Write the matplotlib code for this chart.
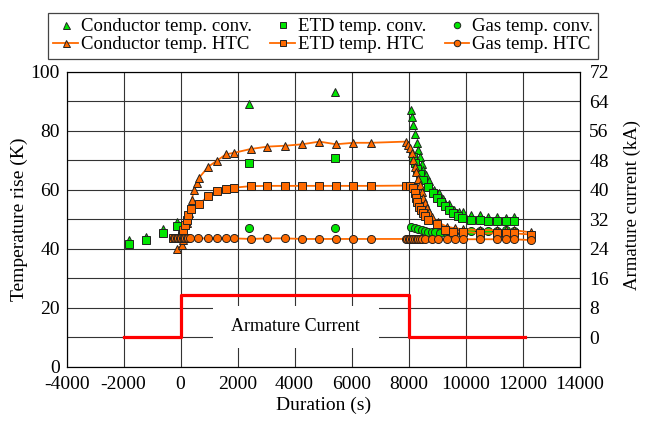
import matplotlib
matplotlib.use("Agg")
import matplotlib.pyplot as plt
from matplotlib.patches import Rectangle
from matplotlib.ticker import MultipleLocator

plt.rcParams['font.family'] = ['Liberation Serif', 'DejaVu Serif']
plt.rcParams['font.size'] = 14
plt.rcParams['axes.unicode_minus'] = False

# conventional (green) measurements
cond_conv_x = [-1800, -1200, -630, -140, 2400, 5420, 8100, 8130, 8170, 8220, 8280, 8340, 8400, 8460,
               8520, 8600, 8730, 8900, 9050, 9200, 9400, 9600, 9780, 9900, 10200, 10500, 10800,
               11100, 11400, 11700]
cond_conv_y = [42.9, 44.0, 46.6, 49.2, 89.0, 93.2, 87.0, 84.5, 82.0, 79.0, 75.8, 73.4, 71.2, 68.6,
               66.7, 65.0, 63.0, 60.0, 58.8, 56.8, 55.0, 53.1, 52.5, 52.3, 51.4, 51.4, 50.8,
               50.6, 50.3, 50.8]
etd_conv_x = [-1800, -1200, -630, -140, 2400, 5420, 8140, 8220, 8300, 8400, 8510, 8690, 8840, 8980,
              9120, 9270, 9430, 9570, 9740, 9890, 10200, 10500, 10800, 11100, 11400, 11700]
etd_conv_y = [41.5, 43.0, 45.4, 47.8, 69.2, 70.6, 71.2, 68.9, 67.0, 65.2, 63.3, 61.0, 58.8, 57.1,
              55.7, 54.5, 53.1, 52.0, 51.2, 50.3, 49.7, 49.7, 49.5, 49.3, 49.3, 49.5]
gas_conv_x = [2400, 5420, 8100, 8220, 8340, 8460, 8575, 8690, 8810, 8925, 9100, 9335, 9570, 9860,
              10200, 10500, 10800, 11100, 11400, 11700]
gas_conv_y = [47.1, 47.1, 47.5, 46.9, 46.6, 46.3, 46.1, 45.8, 45.8, 45.6, 45.4, 45.4, 45.4, 45.4,
              46.0, 46.0, 46.0, 46.0, 46.3, 46.0]

# HTC model (orange)
cond_htc_x = [-140, 35, 100, 150, 213, 306, 389, 470, 565, 635, 973, 1267, 1593, 1874, 2460, 3043,
              3664, 4271, 4868, 5453, 6061, 6670, 7910, 7990, 8050, 8110, 8160, 8220, 8260, 8340,
              8400, 8460, 8520, 8575, 8635, 8725, 8810, 9040, 9335, 9625, 9920, 10500, 11100,
              11400, 11700, 12300]
cond_htc_y = [39.8, 41.2, 43.0, 45.0, 48.6, 52.0, 56.5, 59.9, 62.2, 63.9, 67.8, 69.8, 72.0, 72.5,
              73.8, 74.6, 74.9, 75.4, 76.3, 75.4, 75.9, 75.9, 76.3, 75.2, 74.0, 72.3, 70.0, 67.8,
              65.9, 63.6, 61.6, 59.3, 57.1, 55.4, 53.7, 52.3, 50.8, 48.9, 47.5, 46.9, 46.6, 46.3,
              46.3, 46.3, 46.3, 45.5]
etd_htc_x = [-260, -150, -50, 35, 95, 150, 210, 270, 355, 655, 973, 1267, 1593, 1874, 2460, 3043,
             3664, 4271, 4868, 5453, 6061, 6670, 7910, 8050, 8160, 8220, 8260, 8300, 8370, 8420,
             8490, 8575, 8690, 8985, 9270, 9570, 9920, 10500, 11100, 11400, 11700, 12300]
etd_htc_y = [43.6, 43.6, 43.6, 44.5, 46.3, 48.0, 49.7, 51.4, 53.3, 55.2, 57.9, 59.6, 60.2, 60.7,
             61.2, 61.3, 61.3, 61.3, 61.3, 61.3, 61.3, 61.3, 61.4, 61.4, 60.5, 58.8, 57.1, 55.7,
             54.2, 53.1, 52.0, 51.2, 49.7, 48.3, 46.3, 45.8, 45.8, 45.2, 45.2, 45.2, 45.2, 44.8]
gas_htc_x = [-235, -180, -130, -80, -30, 20, 70, 120, 170, 220, 270, 330, 620, 973, 1267, 1593,
             1874, 2460, 3043, 3664, 4271, 4868, 5453, 6061, 6670, 7910, 7960, 8010, 8060, 8110,
             8160, 8220, 8280, 8340, 8400, 8460, 8575, 8810, 9040, 9335, 9625, 9920, 10500,
             11100, 11400, 11700, 12300]
gas_htc_y = [43.5, 43.5, 43.5, 43.5, 43.5, 43.5, 43.5, 43.5, 43.5, 43.5, 43.5, 43.5, 43.5, 43.5,
             43.5, 43.5, 43.5, 43.3, 43.5, 43.5, 43.3, 43.3, 43.3, 43.3, 43.3, 43.3, 43.3, 43.3,
             43.3, 43.3, 43.3, 43.3, 43.3, 43.3, 43.3, 43.3, 43.3, 43.2, 43.2, 43.2, 43.2, 43.2,
             43.2, 43.2, 43.2, 43.2, 42.9]

# armature current step (kA)
cur_x = [-2000, 0, 0, 8000, 8000, 12100]
cur_y = [0, 0, 11.5, 11.5, 0, 0]

green = '#00e600'
orange = '#ff6a00'
edge = '#222222'
ms = 5.8

fig = plt.figure(figsize=(6.5, 4.21), dpi=100)
ax = fig.add_axes([0.1025, 0.129, 0.7892, 0.7007])

ax.set_xlim(-4000, 14000)
ax.set_ylim(0, 100)
ax.xaxis.set_major_locator(MultipleLocator(2000))
ax.yaxis.set_major_locator(MultipleLocator(20))
ax.yaxis.set_minor_locator(MultipleLocator(10))
ax.grid(True, which='both', color='#333333', linewidth=0.8)
ax.set_axisbelow(True)
ax.tick_params(length=0, which='both')
ax.tick_params(axis='y', pad=5)
ax.tick_params(axis='x', pad=7)

ax.add_patch(Rectangle((1150, 6.5), 5800, 14, facecolor='white', edgecolor='none', zorder=1.5))
ax.text(4040, 13.5, 'Armature Current', ha='center', va='center', fontsize=13, zorder=1.6)

h1, = ax.plot(cond_conv_x, cond_conv_y, '^', ls='none', color=green, mec=edge, mew=0.7, ms=ms + 0.5,
              label='Conductor temp. conv.', zorder=3)
h2, = ax.plot(etd_conv_x, etd_conv_y, 's', ls='none', color=green, mec=edge, mew=0.7, ms=ms,
              label='ETD temp. conv.', zorder=3)
h3, = ax.plot(gas_conv_x, gas_conv_y, 'o', ls='none', color=green, mec=edge, mew=0.7, ms=ms,
              label='Gas temp. conv.', zorder=3)
h4, = ax.plot(cond_htc_x, cond_htc_y, '-^', color=orange, mfc=orange, mec=edge, mew=0.7, ms=ms + 0.5,
              lw=1.3, label='Conductor temp. HTC', zorder=3)
h5, = ax.plot(etd_htc_x, etd_htc_y, '-s', color=orange, mfc=orange, mec=edge, mew=0.7, ms=ms,
              lw=1.3, label='ETD temp. HTC', zorder=3)
h6, = ax.plot(gas_htc_x, gas_htc_y, '-o', color=orange, mfc=orange, mec=edge, mew=0.7, ms=ms,
              lw=1.3, label='Gas temp. HTC', zorder=3)

ax.set_xlabel('Duration (s)', labelpad=2)
ax.set_ylabel('Temperature rise (K)', labelpad=2)

ax2 = ax.twinx()
ax2.set_ylim(-8, 72)
ax2.set_yticks(range(0, 73, 8))
ax2.tick_params(length=0, pad=7)
ax2.plot(cur_x, cur_y, color='#ff0000', lw=2.3)
ax2.set_ylabel('Armature current (kA)', fontsize=13.5)
ax2.yaxis.set_label_coords(1.085, 0.548)

# legend is filled column by column, so interleave to get conv row over HTC row
handles = [h1, h4, h2, h5, h3, h6]
leg = ax.legend(handles, [h.get_label() for h in handles], loc='lower center',
                bbox_to_anchor=(0.5, 1.043), ncol=3, fontsize=13.5,
                frameon=True, fancybox=False, edgecolor='#444444', framealpha=1,
                labelspacing=0.05, handlelength=1.3, handletextpad=0.15, columnspacing=1.0,
                borderpad=0.3, markerscale=0.8, borderaxespad=0)
leg.get_frame().set_linewidth(0.9)

fig.savefig('out.png', dpi=100)
